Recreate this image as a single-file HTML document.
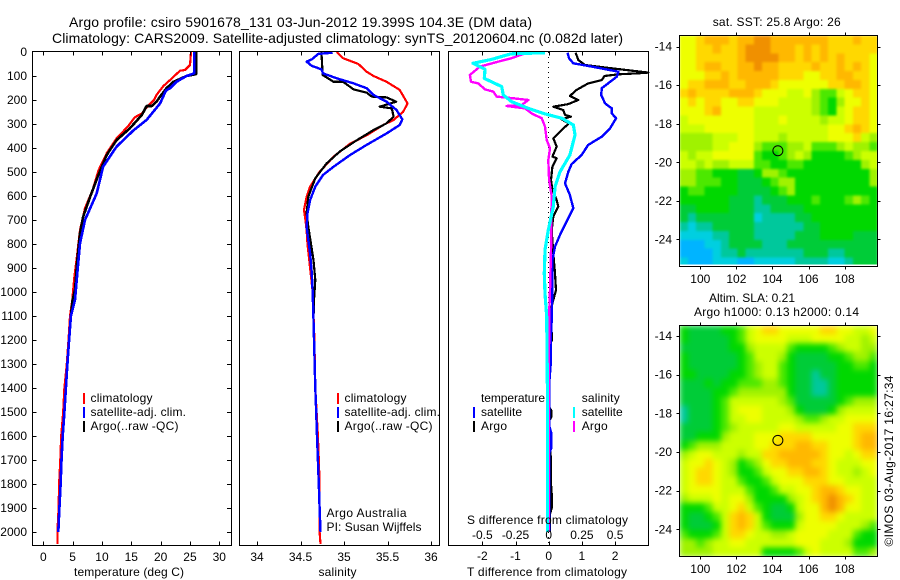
<!DOCTYPE html>
<html lang="en">
<head>
<meta charset="utf-8">
<title>Argo profile csiro 5901678_131</title>
<style>
html,body{margin:0;padding:0;background:#fff;}
svg{display:block;font-family:"Liberation Sans",Arial,sans-serif;font-size:12px;fill:#000;}
.t{font-size:14px;}
</style>
</head>
<body>
<svg id="chart" xmlns="http://www.w3.org/2000/svg" width="900" height="580" viewBox="0 0 900 580">
<defs>
<clipPath id="sst-clip"><rect x="679.5" y="35.5" width="198" height="231"/></clipPath>
<clipPath id="sla-clip"><rect x="679.5" y="325.5" width="198" height="231"/></clipPath>
<filter id="sst-blur" x="-5%" y="-5%" width="110%" height="110%" color-interpolation-filters="sRGB"><feGaussianBlur stdDeviation="1.4" edgeMode="duplicate"/></filter>
<filter id="sla-blur" x="-5%" y="-5%" width="110%" height="110%" color-interpolation-filters="sRGB"><feGaussianBlur stdDeviation="3" edgeMode="duplicate"/></filter>
</defs>
<rect x="0" y="0" width="900" height="580" fill="#fff"/>
<text class="t" x="69" y="27" textLength="463">Argo profile: csiro 5901678_131 03-Jun-2012 19.399S 104.3E (DM data)</text>
<text class="t" x="52" y="43" textLength="571">Climatology: CARS2009. Satellite-adjusted climatology: synTS_20120604.nc (0.082d later)</text>

<g clip-path="url(#sst-clip)"><g id="map-sst" filter="url(#sst-blur)"></g></g>
<rect x="679.5" y="264.5" width="198" height="2" fill="#fff"/>
<g clip-path="url(#sla-clip)"><g id="map-sla" filter="url(#sla-blur)"></g></g>
<g id="series"></g>
<g id="axes"></g>

<text x="74" y="576" textLength="110">temperature (deg C)</text>
<text x="318.5" y="576" textLength="38">salinity</text>
<text x="467" y="576" textLength="160">T difference from climatology</text>
<text x="467" y="524" textLength="161">S difference from climatology</text>

<g>
<rect x="83" y="393" width="2" height="11" fill="#f00"/>
<text x="90.5" y="402" textLength="62">climatology</text>
<rect x="83" y="407" width="2" height="11" fill="#00f"/>
<text x="90.5" y="416" textLength="95.5">satellite-adj. clim.</text>
<rect x="83" y="421" width="2" height="11" fill="#000"/>
<text x="90.5" y="430" textLength="88">Argo(..raw -QC)</text>
</g>
<g>
<rect x="337" y="393" width="2" height="11" fill="#f00"/>
<text x="344.5" y="402" textLength="62">climatology</text>
<rect x="337" y="407" width="2" height="11" fill="#00f"/>
<text x="344.5" y="416" textLength="95.5">satellite-adj. clim.</text>
<rect x="337" y="421" width="2" height="11" fill="#000"/>
<text x="344.5" y="430" textLength="88">Argo(..raw -QC)</text>
</g>
<text x="326.5" y="517" textLength="80">Argo Australia</text>
<text x="326.5" y="531" textLength="95">PI: Susan Wijffels</text>
<g>
<text x="481" y="402" textLength="64">temperature</text>
<rect x="473" y="407" width="2" height="11" fill="#00f"/>
<text x="481" y="416" textLength="41">satellite</text>
<rect x="473" y="421" width="2" height="11" fill="#000"/>
<text x="481" y="430" textLength="26">Argo</text>
<text x="581.7" y="402" textLength="38">salinity</text>
<rect x="573" y="407" width="2" height="11" fill="#0ff"/>
<text x="581.7" y="416" textLength="41">satellite</text>
<rect x="573" y="421" width="2" height="11" fill="#f0f"/>
<text x="581.7" y="430" textLength="26">Argo</text>
</g>

<text x="712.7" y="26" textLength="128">sat. SST: 25.8 Argo: 26</text>
<text x="709" y="302" textLength="86">Altim. SLA: 0.21</text>
<text x="694" y="316" textLength="165">Argo h1000: 0.13 h2000: 0.14</text>
<text transform="translate(893,546.5) rotate(-90)" textLength="171">©IMOS 03-Aug-2017 16:27:34</text>
</svg>
<script>
// ---- shared tick labels ----
const depthTicks = [0,100,200,300,400,500,600,700,800,900,1000,1100,1200,1300,1400,1500,1600,1700,1800,1900,2000];
const tempTicks = [0,5,10,15,20,25,30];
const salTicks = [34,34.5,35,35.5,36];
const tempDiffTicks = [-2,-1,0,1,2];
const salDiffTicks = [-0.5,-0.25,0,0.25,0.5];
const lonTicks = [100,102,104,106,108];
const latTicks = [-14,-16,-18,-20,-22,-24];
const argoLon = 104.3;
const argoLat = -19.399;

// ---- temperature panel ----
const tClimDepth = [0,54,75,78,117,142,179,200,231,256,272,308,360,422,492,575,651,742,839,936,1033,1100,1200,1300,1400,1500,1600,1700,1800,1900,2000,2050];
const tClimValue = [25.17,25.0,24.15,23.3,21.6,20.45,19.3,18.86,17.6,16.8,15.6,14.5,12.5,10.8,9.43,8.4,7.1,6.25,5.8,5.3,4.94,4.55,4.3,4.0,3.6,3.4,3.05,2.9,2.7,2.6,2.4,2.4];
const tSatDepth = [0,89,100,124,151,161,214,283,328,394,478,589,700,797,922,1033,1100,1200,1300,1400,1500,1600,1700,1800,1900,2000];
const tSatValue = [25.7,25.7,24.4,22.7,21.6,20.9,19.9,17.6,15.3,12.5,10.2,9.1,7.1,6.25,5.8,5.4,4.7,4.4,4.1,3.86,3.6,3.3,3.1,2.95,2.75,2.55];
const tArgoDepth = [0,92,100,124,151,186,207,225,225,262,317,367,429,512,603,686,756,867,992,1033,1100,1200,1300,1400,1500,1600,1700,1800,1900];
const tArgoValue = [26.04,26.04,24.4,22.2,21.0,19.9,19.3,18.5,17.6,16.8,14.8,12.5,10.8,9.4,8.0,6.8,6.25,5.8,5.4,5.0,4.7,4.4,4.1,3.86,3.6,3.3,3.1,2.95,2.75];

// ---- salinity panel ----
const sClimDepth = [0,26,50,82,100,124,158,214,249,283,304,347,382,436,499,561,603,658,707,742,800,1000,1200,1400,1600,1700,1800,1900,2000,2050];
const sClimValue = [34.916,34.99,35.165,35.26,35.34,35.49,35.64,35.73,35.68,35.57,35.45,35.26,35.07,34.88,34.72,34.61,34.57,34.54,34.56,34.57,34.58,34.64,34.66,34.67,34.70,34.71,34.72,34.72,34.72,34.73];
const sSatDepth = [3,8,31,40,58,72,89,110,131,151,179,207,242,281,304,339,387,429,478,512,561,617,672,728,783,839,922,1006,1117,1400,1500,1600,1700,1800,1900,2000];
const sSatValue = [34.87,34.705,34.63,34.57,34.63,34.74,34.76,34.92,35.11,35.26,35.34,35.49,35.605,35.67,35.64,35.49,35.26,35.07,34.88,34.76,34.67,34.61,34.58,34.57,34.59,34.61,34.63,34.64,34.65,34.67,34.68,34.69,34.70,34.71,34.72,34.73];
const sArgoDepth = [0,96,124,124,156,169,186,189,207,228,235,269,297,325,367,415,464,526,603,672,728,797,867,950,1033,1117,1400,1600,1900];
const sArgoValue = [34.74,34.755,34.88,34.99,35.11,35.26,35.32,35.49,35.6,35.41,35.55,35.57,35.49,35.34,35.15,34.95,34.8,34.67,34.59,34.57,34.59,34.62,34.65,34.67,34.655,34.65,34.67,34.69,34.72];

// ---- difference panel ----
const dtArgoDepth = [3,33,54,68,86,89,93,100,117,131,158,183,200,217,228,242,262,269,281,297,325,360,394,436,443,478,533,575,617,644,686,742,839,922,992,1033,1089,1150,1170,1200,1220,1480,1495,1520,1535,1720,1800,1840,1900,1930,2000];
const dtArgoValue = [0.813,0.89,1.09,1.9,3.0,2.65,2.1,1.68,1.6,1.19,0.84,0.64,0.89,0.59,0.14,0.44,0.49,0.67,0.39,0.61,0.39,0.14,0.24,0.11,0.24,0.11,0.07,0.11,0.24,0.29,0.14,0.09,0.14,0.19,0.22,0.14,0.04,0.03,0.1,0.1,0.02,0.02,0.08,0.08,0.02,0.07,0.07,0.09,0.09,0.03,0.03];
const dtSatDepth = [3,26,47,61,82,103,151,179,214,235,256,276,318,353,387,429,467,499,547,596,651,762,811,867,978,1117,1200,1300,1370,1560,1590,1650,1670,2000];
const dtSatValue = [0.57,0.61,0.74,1.3,2.1,2.05,1.6,1.58,1.7,1.9,1.9,2.03,1.85,1.6,1.19,0.99,0.69,0.59,0.49,0.64,0.74,0.34,0.19,0.11,0.11,0.09,0.06,0.06,0.02,0.02,0.08,0.08,0.02,0.02];
const dsSatDepth = [3,8,31,47,72,110,144,179,207,235,258,276,304,346,429,499,561,644,742,825,922,1006,1103,1400,1700,2000];
const dsSatValue = [-0.028,-0.286,-0.43,-0.57,-0.48,-0.485,-0.354,-0.342,-0.279,-0.153,-0.028,0.098,0.186,0.198,0.16,0.085,0.048,0.035,-0.003,-0.028,-0.033,-0.028,-0.015,-0.01,-0.008,-0.008];
const dsArgoDepth = [8,26,40,61,96,124,131,156,165,186,193,200,221,225,235,258,276,311,367,401,450,533,603,700,811,992,1103,1400,1700,2000];
const dsArgoValue = [-0.19,-0.279,-0.379,-0.518,-0.593,-0.585,-0.53,-0.48,-0.417,-0.392,-0.266,-0.153,-0.204,-0.317,-0.178,-0.123,-0.053,-0.028,-0.015,0.01,-0.003,0.003,0.023,0.018,0.018,0.01,0.003,0.002,0.002,0.002];

// ---- map grids: one character per cell, colour level 0 (coolest/lowest) to b (warmest/highest) ----
const sstLevels = [
"889aaa9aab baaaaa aa99 9a99",
"8899a99abb baaa9a 9a99 9999",
"8899999abb bbaa9a 9a9a 9998",
"889aa99aab aa9999 a99a 9a98",
"88899a9aaa aa9998 899a a998",
"899aaa99aa a98888 8899 aa98",
"9a9999aaa9 888778 6557 8998",
"8989988998 887777 6546 8898",
"8889a88887 777777 6547 8998",
"7888888887 778777 7677 8998",
"7778888887 777777 7788 9a98",
"6666777887 776777 7788 8976",
"6666778886 555667 5556 7665",
"7677888885 445676 4444 5677",
"7767667775 544554 4444 4467",
"6655444334 665444 4444 4446",
"6655544333 456644 4444 4446",
"4554444333 345644 4444 4444",
"4444443332 333444 5444 5654",
"3344443332 233334 4444 4444",
"3233333331 222233 4444 4444",
"2122333332 222223 3444 4444",
"1111223332 222233 3444 4333",
"0001123333 222333 3333 3333",
"0000122322 222223 3322 3333",
"1000111001 111122 2211 2333"
];
const slaLevels = [
"4333344578 998888 8998 8778",
"4333334578 888777 8888 7767",
"3333334467 777544 4456 7766",
"4333333457 776433 3344 5665",
"4333333456 775433 3334 4554",
"4433334456 775433 2334 4444",
"3334344555 665433 2234 4444",
"3333445666 666433 2234 4444",
"3333457777 776533 3334 5666",
"2333457888 777643 3346 7777",
"2333457788 777765 5677 8888",
"3333456777 778877 7778 8999",
"3344467778 889999 8888 89aa",
"4566677778 8999aa 9988 89aa",
"6788777677 99aaaa a988 7899",
"7889876456 899aaa 9987 7788",
"7899876445 788 99a a987 7678",
"7899877544 578889 9988 7777",
"7888877754 457788 9aa9 8877",
"6777878864 444678 9aba 9877",
"4445778975 433478 8aba 8877",
"4334579a97 433368 8998 7777",
"4333479a97 544478 8887 7765",
"5444579987 766788 8877 7544",
"6656778877 777788 8777 6444",
"6666777777 444457 8777 7556"
];
const levelColors = ["#00b4ff","#00cfe0","#00c89c","#00cc38","#00d800","#4ce800","#a0f200","#ccff00","#eeff00","#ffd800","#ffb800","#f09000"];

// ---- scales ----
function yDepth(d){ return 52 + 0.24 * d; }
function xTemp(v){ return 43.3 + 5.867 * v; }
function xSal(v){ return 257 + 87 * (v - 34); }
function xTDiff(v){ return 548.7 + 33.2 * v; }
function xSDiff(v){ return 548.7 + 132.8 * v; }
function xLon(v){ return 700.3 + 18.04 * (v - 100); }
function ySstLat(v){ return 46.7 + 19.27 * (-14 - v); }
function ySlaLat(v){ return 336 + 19.33 * (-14 - v); }

const NS = "http://www.w3.org/2000/svg";
const seriesLayer = document.getElementById("series");
const axesLayer = document.getElementById("axes");

function drawProfile(depths, values, xScale, color, width, name){
  let d = "";
  for (let i = 0; i < depths.length; i++) {
    d += (i ? "L" : "M") + xScale(values[i]).toFixed(1) + " " + yDepth(depths[i]).toFixed(1);
  }
  const el = document.createElementNS(NS, "path");
  
  
  el.setAttribute("d", d);
  el.setAttribute("fill", "none");
  el.setAttribute("stroke", color);
  el.setAttribute("stroke-width", width);
  el.setAttribute("stroke-linejoin", "round");
  el.setAttribute("shape-rendering", "crispEdges");
  seriesLayer.appendChild(el);
}

function drawSegment(x1, y1, x2, y2, name, layer){
  const el = document.createElementNS(NS, "line");
  
  
  el.setAttribute("x1", x1);
  el.setAttribute("y1", y1);
  el.setAttribute("x2", x2);
  el.setAttribute("y2", y2);
  el.setAttribute("stroke", "#000");
  el.setAttribute("stroke-width", "1");
  el.setAttribute("shape-rendering", "crispEdges");
  layer.appendChild(el);
  return el;
}

function drawLabel(x, y, text, anchor, name){
  const el = document.createElementNS(NS, "text");
  
  
  el.setAttribute("x", x);
  el.setAttribute("y", y);
  el.setAttribute("text-anchor", anchor);
  el.textContent = text;
  axesLayer.appendChild(el);
}

function drawFrame(left, top, right, bottom, name){
  const el = document.createElementNS(NS, "rect");
  
  
  el.setAttribute("x", left);
  el.setAttribute("y", top);
  el.setAttribute("width", right - left);
  el.setAttribute("height", bottom - top);
  el.setAttribute("fill", "none");
  el.setAttribute("stroke", "#000");
  el.setAttribute("stroke-width", "1");
  el.setAttribute("shape-rendering", "crispEdges");
  axesLayer.appendChild(el);
}

function drawXTicks(ticks, scale, top, bottom, len, labelY){
  ticks.forEach(function(v){
    const x = Math.round(scale(v)) + 0.5;
    drawSegment(x, top, x, top + len, "x-tick-top", axesLayer);
    drawSegment(x, bottom, x, bottom - len, "x-tick-bottom", axesLayer);
    if (labelY) drawLabel(scale(v), labelY, String(v), "middle", "x-tick-label");
  });
}

function drawHeat(rows, layerId, left, top, width, height, name){
  const layer = document.getElementById(layerId);
  const nRows = rows.length;
  rows.forEach(function(row, r){
    const cells = row.replace(/ /g, "");
    const nCols = cells.length;
    for (let c = 0; c < nCols; c++) {
      const el = document.createElementNS(NS, "rect");
      
      
      el.setAttribute("x", (left + width * c / nCols).toFixed(2));
      el.setAttribute("y", (top + height * r / nRows).toFixed(2));
      el.setAttribute("width", (width / nCols + 0.4).toFixed(2));
      el.setAttribute("height", (height / nRows + 0.4).toFixed(2));
      el.setAttribute("fill", levelColors[parseInt(cells[c], 16)]);
      el.setAttribute("shape-rendering", "crispEdges");
      layer.appendChild(el);
    }
  });
}

// ---- maps ----
drawHeat(sstLevels, "map-sst", 679.5, 35.5, 198, 231, "sst-cell");
drawHeat(slaLevels, "map-sla", 679.5, 325.5, 198, 231, "sla-cell");

// ---- profile series ----
drawProfile(tClimDepth, tClimValue, xTemp, "#f00", 2.2, "temperature-climatology-line");
drawProfile(tArgoDepth, tArgoValue, xTemp, "#000", 2.6, "temperature-argo-line");
drawProfile(tSatDepth, tSatValue, xTemp, "#00f", 2.6, "temperature-satellite-line");
drawProfile(sClimDepth, sClimValue, xSal, "#f00", 2.2, "salinity-climatology-line");
drawProfile(sArgoDepth, sArgoValue, xSal, "#000", 2.2, "salinity-argo-line");
drawProfile(sSatDepth, sSatValue, xSal, "#00f", 2.4, "salinity-satellite-line");

const zeroLine = drawSegment(xTDiff(0), 52, xTDiff(0), 545, "zero-difference-line", seriesLayer);
zeroLine.setAttribute("stroke-dasharray", "1 4");

drawProfile(dtArgoDepth, dtArgoValue, xTDiff, "#000", 2.2, "t-difference-argo-line");
drawProfile(dtSatDepth, dtSatValue, xTDiff, "#00f", 2.4, "t-difference-satellite-line");
drawProfile(dsArgoDepth, dsArgoValue, xSDiff, "#f0f", 2.4, "s-difference-argo-line");
drawProfile(dsSatDepth, dsSatValue, xSDiff, "#0ff", 3.2, "s-difference-satellite-line");

// ---- profile axes ----
drawFrame(32.5, 51.5, 231.5, 545.5, "temperature-panel-frame");
drawFrame(239.5, 51.5, 439.5, 545.5, "salinity-panel-frame");
drawFrame(448.5, 51.5, 648.5, 545.5, "difference-panel-frame");

depthTicks.forEach(function(v){
  const y = Math.round(yDepth(v)) + 0.5;
  if (v > 0) {
    drawSegment(32.5, y, 36.5, y, "depth-tick-left", axesLayer);
    drawSegment(231.5, y, 227, y, "depth-tick-right", axesLayer);
  }
  drawLabel(27, yDepth(v) + 4, String(v), "end", "depth-tick-label");
});
drawXTicks(tempTicks, xTemp, 51.5, 545.5, 4, 561);
drawXTicks(salTicks, xSal, 51.5, 545.5, 4, 561);
drawXTicks(tempDiffTicks, xTDiff, 51.5, 545.5, 4, 560);
salDiffTicks.forEach(function(v){
  drawLabel(xSDiff(v), 539, String(v), "middle", "s-difference-tick-label");
});

// ---- map axes ----
function drawMapAxes(top, bottom, yScale, labelY, name){
  drawFrame(679.5, top, 877.5, bottom, name);
  lonTicks.forEach(function(v){
    const x = Math.round(xLon(v)) + 0.5;
    drawSegment(x, top, x, top - 3, "lon-tick-top", axesLayer);
    drawSegment(x, bottom, x, bottom + 3, "lon-tick-bottom", axesLayer);
    drawLabel(xLon(v), labelY, String(v), "middle", "lon-tick-label");
  });
  latTicks.forEach(function(v){
    const y = Math.round(yScale(v)) + 0.5;
    drawSegment(679.5, y, 676.5, y, "lat-tick-left", axesLayer);
    drawSegment(877.5, y, 880.5, y, "lat-tick-right", axesLayer);
    drawLabel(672, yScale(v) + 4, String(v), "end", "lat-tick-label");
  });
  const marker = document.createElementNS(NS, "circle");
  
  
  marker.setAttribute("cx", xLon(argoLon));
  marker.setAttribute("cy", yScale(argoLat));
  marker.setAttribute("r", "5");
  marker.setAttribute("fill", "none");
  marker.setAttribute("stroke", "#000");
  marker.setAttribute("stroke-width", "1");
  axesLayer.appendChild(marker);
}
drawMapAxes(35.5, 266.5, ySstLat, 283, "sst-map-frame");
drawMapAxes(325.5, 556.5, ySlaLat, 573, "sla-map-frame");
</script>
</body>
</html>
